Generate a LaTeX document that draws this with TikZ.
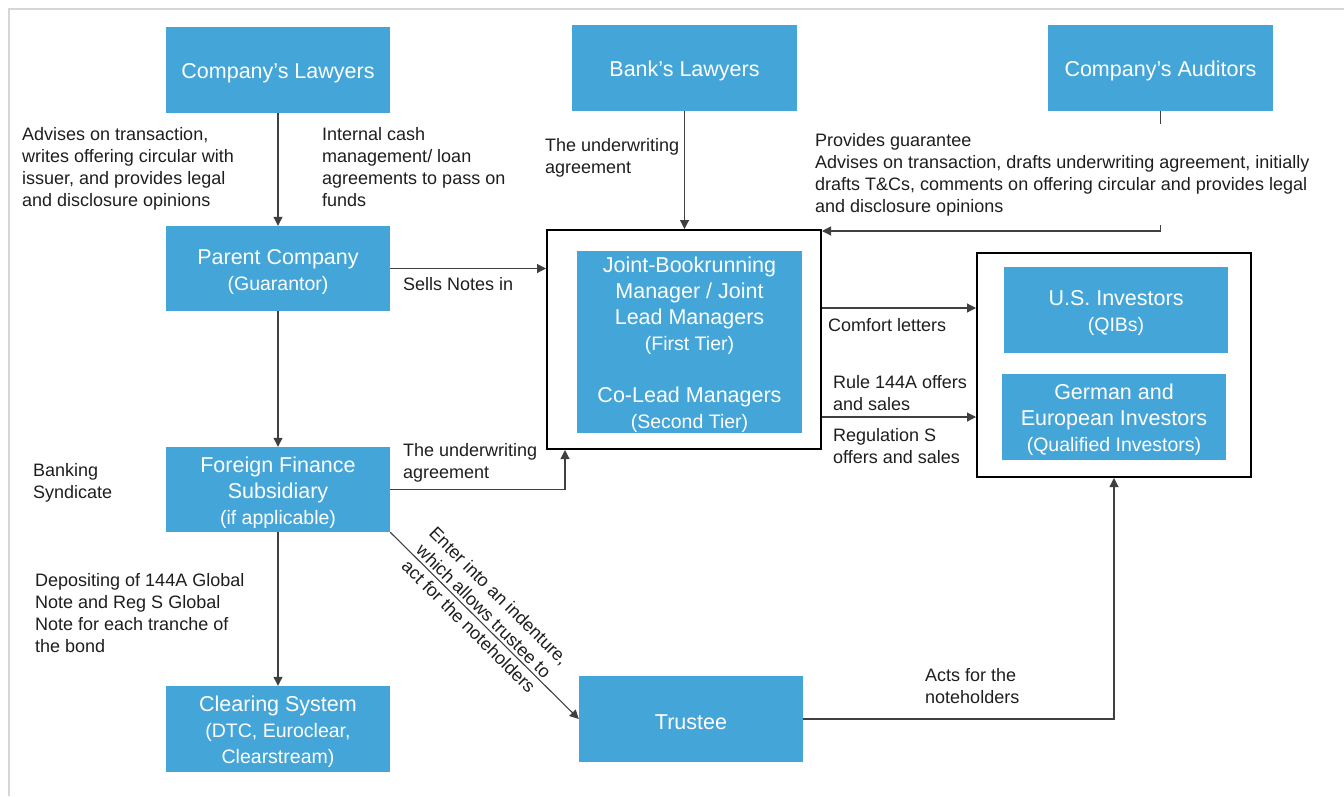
\documentclass[tikz,border=0pt]{standalone}
\usepackage{fontspec}
\setmainfont{Liberation Sans}
\usetikzlibrary{arrows.meta,calc}
\definecolor{boxblue}{RGB}{68,165,216}
\definecolor{inkgray}{RGB}{64,64,64}
\definecolor{labelink}{RGB}{30,30,30}
\definecolor{framegray}{RGB}{214,214,214}
\newcommand\subtxt[1]{{\fontsize{19.5}{25}\selectfont #1}}
% taller first line so box text sits a little lower
\newcommand\topstrut{\rule{0pt}{22pt}}

\begin{document}
\begin{tikzpicture}[x=1pt,y=-1pt,
  bluebox/.style={fill=boxblue, text=white, inner sep=0pt, align=center,
    minimum width=224pt, minimum height=86pt, font=\fontsize{21.5}{26}\selectfont},
  groupbox/.style={draw=black, line width=2pt, inner sep=0pt},
  conn/.style={draw=inkgray, line width=1.1pt},
  arr/.style={conn, -{Triangle[length=9pt,width=9pt]}},
  lbl/.style={text=labelink, inner sep=0pt, anchor=north west, align=left,
    font=\fontsize{18}{22}\selectfont},
]
\useasboundingbox (0,0) rectangle (1344,796);

% page frame
\draw[framegray, line width=2pt] (8.5,796) -- (8.5,8.5) -- (1344,8.5);

% parties
\node[bluebox] (clawyers) at (278,70) {\topstrut Company’s Lawyers};
\node[bluebox, minimum width=225pt] (blawyers) at (684.5,68) {\topstrut Bank’s Lawyers};
\node[bluebox, minimum width=225pt] (auditors) at (1160.5,68) {\topstrut Company’s Auditors};
\node[bluebox, minimum height=85pt] (parent) at (278,268.5) {\topstrut Parent Company\\\subtxt{(Guarantor)}};
\node[bluebox, minimum height=85pt] (ffs) at (278,489.5) {\topstrut Foreign Finance\\Subsidiary\\\subtxt{(if applicable)}};
\node[bluebox] (clearing) at (278,729) {\topstrut Clearing System\\\subtxt{(DTC, Euroclear,}\\\subtxt{Clearstream)}};
\node[bluebox] (trustee) at (691,719) {\topstrut Trustee};

% banking syndicate
\node[groupbox, minimum width=274pt, minimum height=219pt] (jbmo) at (684,339.5) {};
\node[bluebox, minimum width=225pt, minimum height=182pt] (jbm) at (689.5,342)
  {\topstrut Joint-Bookrunning\\Manager / Joint\\Lead Managers\\\subtxt{(First Tier)}\\[26pt]Co-Lead Managers\\\subtxt{(Second Tier)}};

% investors
\node[groupbox, minimum width=274pt, minimum height=224pt] (invo) at (1114,365) {};
\node[bluebox] (us) at (1116,310) {\topstrut U.S. Investors\\\subtxt{(QIBs)}};
\node[bluebox] (german) at (1114,417) {\topstrut German and\\European Investors\\\subtxt{(Qualified Investors)}};

% connectors
\coordinate (uwx) at (565,0);
\coordinate (cfy) at (0,308);
\coordinate (ofy) at (0,417);
\draw[arr] (clawyers.south) -- (parent.north);
\draw[arr] (blawyers.south) -- (blawyers.south |- jbmo.north);
\draw[arr] (auditors.south) |- ([yshift=-2pt]jbmo.north east);
\draw[arr] (parent.east) -- (parent.east -| jbmo.west);
\draw[arr] (parent.south) -- (ffs.north);
\draw[arr] (ffs.east) -| (uwx |- jbmo.south);
\draw[arr] (ffs.south) -- (clearing.north);
\draw[arr] (ffs.south east) -- (trustee.west) coordinate[pos=0.46] (indmid);
\draw[arr] (trustee.east) -| (invo.south);
\draw[arr] (jbmo.east |- cfy) -- (invo.west |- cfy);
\draw[arr] (jbmo.east |- ofy) -- (invo.west |- ofy);

% labels
\node[lbl] (n1) at (22,127) {Advises on transaction,\\writes offering circular with\\issuer, and provides legal\\and disclosure opinions};
\node[lbl] (n2) at (322,127) {Internal cash\\management/ loan\\agreements to pass on\\funds};
\node[lbl] (n3) at (545,138) {The underwriting\\agreement};
\node[lbl, fill=white, inner ysep=9pt] (n4) at (815,124) {Provides guarantee\\Advises on transaction, drafts underwriting agreement, initially\\drafts T\&Cs, comments on offering circular and provides legal\\and disclosure opinions};
\node[lbl] (n5) at (403,277) {Sells Notes in};
\node[lbl] (n6) at (403,443) {The underwriting\\agreement};
\node[lbl] (n7) at (33,463) {Banking\\Syndicate};
\node[lbl] (n8) at (35,573) {Depositing of 144A Global\\Note and Reg S Global\\Note for each tranche of\\the bond};
\node[lbl] (n9) at (828,318) {Comfort letters};
\node[lbl] (n10) at (833,375) {Rule 144A offers\\and sales};
\node[lbl] (n11) at (833,428) {Regulation S\\offers and sales};
\node[lbl] (n12) at (925,668) {Acts for the\\noteholders};
\node[text=labelink, align=center, inner sep=0pt, font=\fontsize{18}{21.5}\selectfont, rotate=-44.7]
  (n13) at ($(indmid)!10pt!90:(trustee.west)$) {Enter into an indenture,\\which allows trustee to\\act for the noteholders};
\end{tikzpicture}
\end{document}
